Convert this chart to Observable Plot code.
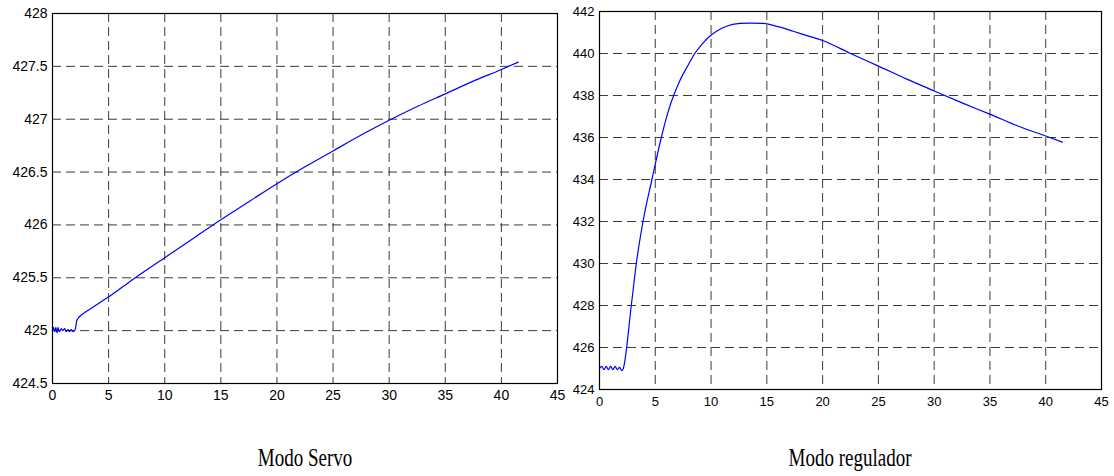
<!DOCTYPE html>
<html>
<head>
<meta charset="utf-8">
<script src="https://cdn.jsdelivr.net/npm/d3@7"></script>
<script src="https://cdn.jsdelivr.net/npm/@observablehq/plot@0.6"></script>
<style>
  html, body { margin: 0; padding: 0; background: #fff; }
  #wrap { position: relative; width: 1114px; height: 476px; overflow: hidden; }
  .panel { position: absolute; top: 0; }
  .panel svg { overflow: visible; }
  .cap { position: absolute; width: 300px; text-align: center; font-family: "Liberation Serif", "Times New Roman", serif;
         font-size: 19px; line-height: 19px; color: #000; transform: scaleY(1.35); transform-origin: 50% 16px; white-space: nowrap; }
</style>
</head>
<body>
<div id="wrap">
  <div id="left" class="panel" style="left:0px"></div>
  <div id="right" class="panel" style="left:560px"></div>
  <div class="cap" style="left:155px; top:450px">Modo Servo</div>
  <div class="cap" style="left:700px; top:450px">Modo regulador</div>
</div>
<script>
// ---- data ----
const xTicks = [0, 5, 10, 15, 20, 25, 30, 35, 40, 45];
const servoYTicks = [424.5, 425, 425.5, 426, 426.5, 427, 427.5, 428];
const regYTicks = [424, 426, 428, 430, 432, 434, 436, 438, 440, 442];

const servoT = [0, 0.1, 0.2, 0.3, 0.4, 0.5, 0.6, 0.8, 0.9, 1.1, 1.2, 1.4, 1.5, 1.7, 1.8, 1.95, 2.05, 2.15, 2.3, 2.6, 3.0, 4.0, 5.0, 6.25, 7.5, 10, 12.5, 15, 17.5, 20, 22.5, 25, 27.5, 30, 32.5, 35, 37.5, 40, 41.5];
const servoY = [425.0, 425.03, 424.99, 425.03, 424.98, 425.03, 424.99, 425.02, 425.0, 425.02, 424.99, 425.01, 424.99, 425.01, 424.99, 425.0, 425.02, 425.09, 425.12, 425.15, 425.18, 425.25, 425.32, 425.415, 425.51, 425.69, 425.87, 426.05, 426.22, 426.39, 426.55, 426.70, 426.85, 426.99, 427.12, 427.24, 427.36, 427.47, 427.54];

const regT = [0, 0.2, 0.4, 0.6, 0.8, 1.0, 1.2, 1.4, 1.6, 1.8, 2.0, 2.1, 2.85, 3.3, 3.9, 4.7, 5.54, 6.0, 6.44, 7.19, 8.0, 8.54, 9.2, 9.88, 10.6, 11.38, 12.58, 13.5, 14.67, 16.0, 17.37, 18.6, 20.0, 22.5, 25.0, 27.5, 30.07, 32.5, 35.04, 37.5, 40.05, 41.5];
const regY = [425.0, 425.1, 424.95, 425.1, 424.95, 425.1, 424.95, 425.1, 424.95, 425.05, 424.9, 424.95, 428.0, 430.0, 432.0, 434.0, 436.0, 436.95, 437.7, 438.69, 439.5, 440.0, 440.45, 440.82, 441.1, 441.3, 441.43, 441.45, 441.43, 441.28, 441.06, 440.85, 440.62, 440.0, 439.4, 438.79, 438.2, 437.65, 437.1, 436.55, 436.06, 435.78];

const servoRows = servoT.map((t, i) => ({t, v: servoY[i]}));
const regRows = regT.map((t, i) => ({t, v: regY[i]}));

function panel({rows, yTicks, width, height, ml, mr, mt, mb, fs}) {
  const gridStyle = {stroke: "#3a3a3a", strokeOpacity: 1, strokeWidth: 1, strokeDasharray: "9,5"};
  return Plot.plot({
    width, height,
    marginLeft: ml, marginRight: mr, marginTop: mt, marginBottom: mb,
    style: {background: "transparent", fontFamily: "'Liberation Sans', Arial, sans-serif", color: "#000", overflow: "visible"},
    x: {domain: [xTicks[0], xTicks[xTicks.length - 1]], label: null},
    y: {domain: [yTicks[0], yTicks[yTicks.length - 1]], label: null},
    marks: [
      Plot.gridX(xTicks.slice(1, -1), gridStyle),
      Plot.gridY(yTicks.slice(1, -1), gridStyle),
      Plot.axisX(xTicks, {anchor: "bottom", tickSize: 0, tickPadding: 7, fontSize: fs, label: null, tickFormat: d => String(d)}),
      Plot.axisY(yTicks, {anchor: "left", tickSize: 0, tickPadding: 5, fontSize: fs, label: null, tickFormat: d => String(d)}),
      Plot.line(rows, {x: "t", y: "v", stroke: "#0000ff", strokeWidth: 1.2, curve: "monotone-x"}),
      Plot.frame({stroke: "#000", strokeWidth: 1.2})
    ]
  });
}

document.getElementById("left").appendChild(panel({
  rows: servoRows, yTicks: servoYTicks, width: 560, height: 410,
  ml: 52, mr: 3, mt: 13, mb: 27, fs: 14
}));
document.getElementById("right").appendChild(panel({
  rows: regRows, yTicks: regYTicks, width: 554, height: 410,
  ml: 39, mr: 13, mt: 11, mb: 21, fs: 13
}));
</script>
</body>
</html>
